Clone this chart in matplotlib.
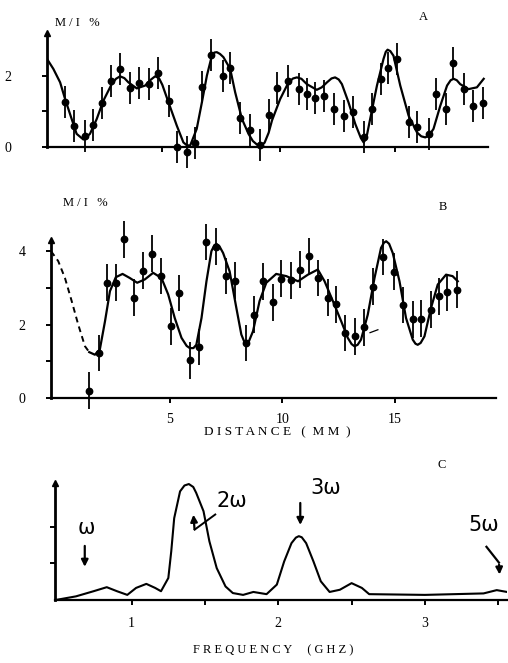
import matplotlib
matplotlib.use("Agg")
import matplotlib.pyplot as plt

plt.rcParams['font.family'] = ['Liberation Serif', 'DejaVu Serif']

# panel A : measured points (distance mm, M/I %)
a_x = [0.81, 1.21, 1.70, 2.04, 2.43, 2.85, 3.24, 3.69, 4.06, 4.50, 4.90, 5.38,
       5.75, 6.18, 6.55, 6.86, 7.26, 7.79, 8.11, 8.53, 8.97, 9.44, 9.81, 10.15,
       10.65, 11.14, 11.50, 11.87, 12.24, 12.68, 13.13, 13.54, 14.00, 14.38,
       14.75, 15.07, 15.46, 15.99, 16.36, 16.87, 17.18, 17.63, 17.95, 18.44,
       18.85, 19.29]
a_y = [1.27, 0.60, 0.31, 0.62, 1.24, 1.86, 2.20, 1.67, 1.81, 1.77, 2.07, 1.30,
       0.00, -0.15, 0.11, 1.70, 2.58, 2.00, 2.23, 0.81, 0.48, 0.05, 0.90, 1.65,
       1.86, 1.63, 1.49, 1.37, 1.44, 1.07, 0.88, 0.98, 0.28, 1.07,
       1.91, 2.23, 2.47, 0.70, 0.55, 0.37, 1.49, 1.07, 2.37, 1.63,
       1.16, 1.24]
a_err = 0.45

# panel A : fitted curve
a_cx = [0.0, 0.28, 0.58, 0.80, 1.09, 1.31, 1.61, 1.90, 2.20, 2.49, 2.86, 3.05,
        3.23, 3.42, 3.60, 3.97, 4.34, 4.60, 4.78, 4.95, 5.10, 5.37, 5.74, 6.03,
        6.18, 6.33, 6.62, 6.85, 7.07, 7.29, 7.40, 7.51, 7.65, 7.80, 8.10, 8.32,
        8.62, 8.91, 9.10, 9.28, 9.45, 9.62, 9.80, 9.95, 10.31, 10.68, 10.88,
        11.05, 11.25, 11.49, 11.93, 12.15, 12.38, 12.58, 12.74, 12.90, 13.04,
        13.33, 13.63, 13.88, 14.00, 14.12, 14.29, 14.59, 14.88, 14.98, 15.06,
        15.18, 15.32, 15.62, 15.99, 16.36, 16.55, 16.73, 16.90, 17.09, 17.39,
        17.69, 17.85, 17.98, 18.12, 18.27, 18.64, 19.01, 19.31]
a_cy = [2.48, 2.20, 1.82, 1.35, 0.79, 0.37, 0.21, 0.37, 0.79, 1.30, 1.77, 1.92,
        1.99, 1.94, 1.82, 1.65, 1.73, 1.90, 1.99, 1.94, 1.75, 1.26, 0.60, 0.13,
        0.05, 0.04, 0.51, 1.26, 2.01, 2.57, 2.66, 2.67, 2.62, 2.53, 2.20, 1.54,
        0.79, 0.37, 0.17, 0.07, 0.04, 0.12, 0.40, 0.75, 1.35, 1.82, 1.93,
        1.96, 1.92, 1.77, 1.61, 1.68, 1.82, 1.93, 1.96, 1.90, 1.77,
        1.26, 0.65, 0.25, 0.13, 0.25, 0.79, 1.73, 2.48, 2.68, 2.74,
        2.70, 2.57, 1.73, 0.88, 0.41, 0.30, 0.27, 0.33, 0.51, 1.16,
        1.73, 1.88, 1.92, 1.88, 1.77, 1.63, 1.68, 1.92]

# panel B : measured points
b_x = [1.42, 1.86, 2.19, 2.60, 2.96, 3.40, 3.79, 4.20, 4.62, 5.04, 5.41, 5.89,
       6.30, 6.63, 7.07, 7.49, 7.88, 8.37, 8.73, 9.14, 9.59, 9.96, 10.40,
       10.81, 11.21, 11.61, 12.03, 12.40, 12.81, 13.25, 13.65, 14.02, 14.47,
       14.98, 15.38, 15.80, 16.17, 16.60, 16.95, 17.30, 17.75]
b_y = [0.20, 1.23, 3.14, 3.14, 4.32, 2.73, 3.47, 3.93, 3.32, 1.95, 2.86, 1.03,
       1.39, 4.25, 4.12, 3.32, 3.20, 1.50, 2.27, 3.18, 2.61, 3.25, 3.21,
       3.50, 3.86, 3.27, 2.73, 2.55, 1.77, 1.68, 1.93, 3.03, 3.84,
       3.44, 2.53, 2.14, 2.16, 2.41, 2.77, 2.88, 2.95]
b_err = 0.5

# panel B : dashed extrapolation and fitted curve
b_dx = [-0.28, 0.04, 0.34, 0.64, 0.93, 1.23, 1.42]
b_dy = [4.00, 3.73, 3.27, 2.64, 2.00, 1.41, 1.25]
b_cx = [1.42, 1.67, 1.89, 2.12, 2.34, 2.60, 2.90, 3.22, 3.55, 3.89, 4.26, 4.63,
        4.93, 5.22, 5.52, 5.75, 5.89, 6.05, 6.18, 6.41, 6.63, 6.85, 6.98, 7.07,
        7.20, 7.37, 7.66, 7.96, 8.18, 8.30, 8.40, 8.52, 8.70, 8.99, 9.29, 9.73,
        10.18, 10.70, 11.14, 11.58, 11.88, 12.25, 12.62, 12.91, 13.08, 13.21,
        13.35, 13.50, 13.80, 14.10, 14.39, 14.52, 14.62, 14.75, 14.91, 15.21,
        15.50, 15.80, 15.92, 16.02, 16.15, 16.32, 16.61, 16.91, 17.28, 17.57,
        17.80]
b_cy = [1.25, 1.18, 1.32, 2.09, 2.91, 3.29, 3.38, 3.27, 3.14, 3.23, 3.41, 3.27,
        2.82, 2.18, 1.64, 1.42, 1.36, 1.36, 1.45, 2.18, 3.18, 4.00, 4.16, 4.20,
        4.14, 3.95, 3.45, 2.45, 1.73, 1.55, 1.50, 1.55, 1.82, 2.64, 3.14, 3.38,
        3.32, 3.18, 3.36, 3.50, 3.18, 2.64, 2.09, 1.64, 1.47, 1.41,
        1.45, 1.59, 2.27, 3.27, 4.09, 4.23, 4.27, 4.20, 3.95, 3.18,
        2.18, 1.59, 1.48, 1.45, 1.50, 1.68, 2.45, 3.09, 3.36, 3.32,
        3.18]

# panel C : spectrum (frequency GHz, arbitrary units)
c_x = [0.48, 0.62, 0.74, 0.83, 0.90, 0.97, 1.03, 1.10, 1.16, 1.20, 1.25, 1.27,
       1.29, 1.33, 1.36, 1.39, 1.42, 1.44, 1.49, 1.53, 1.58, 1.64, 1.69, 1.76,
       1.83, 1.92, 1.99, 2.04, 2.09, 2.12, 2.14, 2.16, 2.19, 2.24, 2.29, 2.35,
       2.42, 2.50, 2.57, 2.62, 3.00, 3.40, 3.49, 3.56]
c_y = [0.0, 0.10, 0.24, 0.35, 0.24, 0.14, 0.33, 0.44, 0.33, 0.24, 0.60, 1.33,
       2.23, 2.96, 3.12, 3.16, 3.08, 2.92, 2.42, 1.60, 0.87, 0.37, 0.19, 0.14,
       0.22, 0.16, 0.42, 1.05, 1.55, 1.70, 1.74, 1.71, 1.55, 1.05, 0.51, 0.22,
       0.28, 0.46, 0.33, 0.16, 0.14, 0.18, 0.27, 0.22]

W, H = 508, 663


def px_axes(left, right, top, bottom):
    return fig.add_axes([left / W, 1 - bottom / H, (right - left) / W, (bottom - top) / H])


def style(ax, xlo, xhi, ytop):
    for s in ['top', 'right']:
        ax.spines[s].set_visible(False)
    ax.spines['bottom'].set_position(('data', 0))
    ax.spines['bottom'].set_bounds(xlo, xhi)
    ax.spines['left'].set_bounds(0, ytop)
    ax.spines['left'].set_linewidth(2.0)
    ax.spines['bottom'].set_linewidth(1.6)
    ax.tick_params(direction='out', length=3.5, width=1.4, labelsize=10)
    ax.plot([xlo], [ytop], marker='^', color='black', ms=5, clip_on=False)


fig = plt.figure(figsize=(W / 100, H / 100), dpi=100)

# ---- A ----
ax = px_axes(47, 488, 29.8, 168.3)
ax.set_xlim(0, 19.5)
ax.set_ylim(-0.6, 3.3)
style(ax, 0, 19.5, 3.22)
ax.plot(a_cx, a_cy, color='black', lw=1.6)
ax.errorbar(a_x, a_y, yerr=a_err, fmt='o', color='black', ms=4.6,
            elinewidth=1.3, capsize=0, clip_on=False)
ax.set_xticks([5.1, 10.3, 15.4])
ax.set_xticklabels([])
ax.set_yticks([0, 1, 2])
ax.set_yticklabels(['0', '', '2'])
ax.tick_params(axis='y', pad=22)

# ---- B ----
ax = px_axes(51, 496, 232.8, 416.4)
ax.set_xlim(-0.28, 19.5)
ax.set_ylim(-0.5, 4.5)
style(ax, -0.28, 19.5, 4.3)
ax.plot(b_dx, b_dy, color='black', lw=1.4, ls=(0, (3, 2.2)))
ax.plot(b_cx, b_cy, color='black', lw=1.6)
ax.errorbar(b_x, b_y, yerr=b_err, fmt='o', color='black', ms=4.6,
            elinewidth=1.3, capsize=0, clip_on=False)
ax.plot([13.9, 14.25], [1.78, 1.86], color='black', lw=0.9)
ax.set_xticks([5, 10, 15])
ax.set_yticks([0, 1, 2, 3, 4])
ax.set_yticklabels(['0', '', '2', '', '4'])
ax.tick_params(axis='y', pad=15)
ax.tick_params(axis='x', pad=7)

# ---- C ----
ax = px_axes(55, 507, 478.9, 603.7)
ax.set_xlim(0.477, 3.56)
ax.set_ylim(-0.1, 3.3)
style(ax, 0.477, 3.56, 3.2)
ax.plot(c_x, c_y, color='black', lw=1.5)
ax.set_xticks([1, 1.5, 2, 2.5, 3, 3.5])
ax.set_xticklabels(['1', '', '2', '', '3', ''])
ax.set_yticks([1, 2])
ax.set_yticklabels([])
ax.tick_params(axis='x', pad=9)

arrow = dict(arrowstyle='-|>', color='black', lw=1.6, mutation_scale=10)
hand = dict(family='DejaVu Sans', fontsize=15)
ax.text(0.69, 1.96, 'ω', ha='center', va='center', **hand)
ax.annotate('', xy=(0.68, 0.83), xytext=(0.68, 1.55), arrowprops=arrow)
ax.text(1.68, 2.7, '2ω', ha='center', va='center', **hand)
ax.plot([1.57, 1.43], [2.33, 1.92], color='black', lw=1.4)
ax.annotate('', xy=(1.42, 2.4), xytext=(1.43, 1.85), arrowprops=arrow)
ax.text(2.32, 3.05, '3ω', ha='center', va='center', **hand)
ax.annotate('', xy=(2.15, 1.97), xytext=(2.15, 2.72), arrowprops=arrow)
ax.text(3.40, 2.05, '5ω', ha='center', va='center', **hand)
ax.plot([3.42, 3.505], [1.45, 1.02], color='black', lw=1.6, clip_on=False)
ax.annotate('', xy=(3.51, 0.62), xytext=(3.505, 1.04), arrowprops=arrow,
            annotation_clip=False)

# ---- texts ----
fig.text(55 / W, 1 - 23 / H, 'M / I   %', fontsize=9, va='center')
fig.text(63 / W, 1 - 203 / H, 'M / I   %', fontsize=9, va='center')
fig.text(423 / W, 1 - 17 / H, 'A', fontsize=9, ha='center', va='center')
fig.text(443 / W, 1 - 207 / H, 'B', fontsize=9, ha='center', va='center')
fig.text(442 / W, 1 - 465 / H, 'C', fontsize=9, ha='center', va='center')
fig.text(277 / W, 1 - 432 / H, 'D I S T A N C E   (  M M  )', fontsize=9.5,
         ha='center', va='center')
fig.text(273 / W, 1 - 650 / H, 'F R E Q U E N C Y     ( G H Z )', fontsize=9,
         ha='center', va='center')

fig.savefig('out.png', dpi=100)
